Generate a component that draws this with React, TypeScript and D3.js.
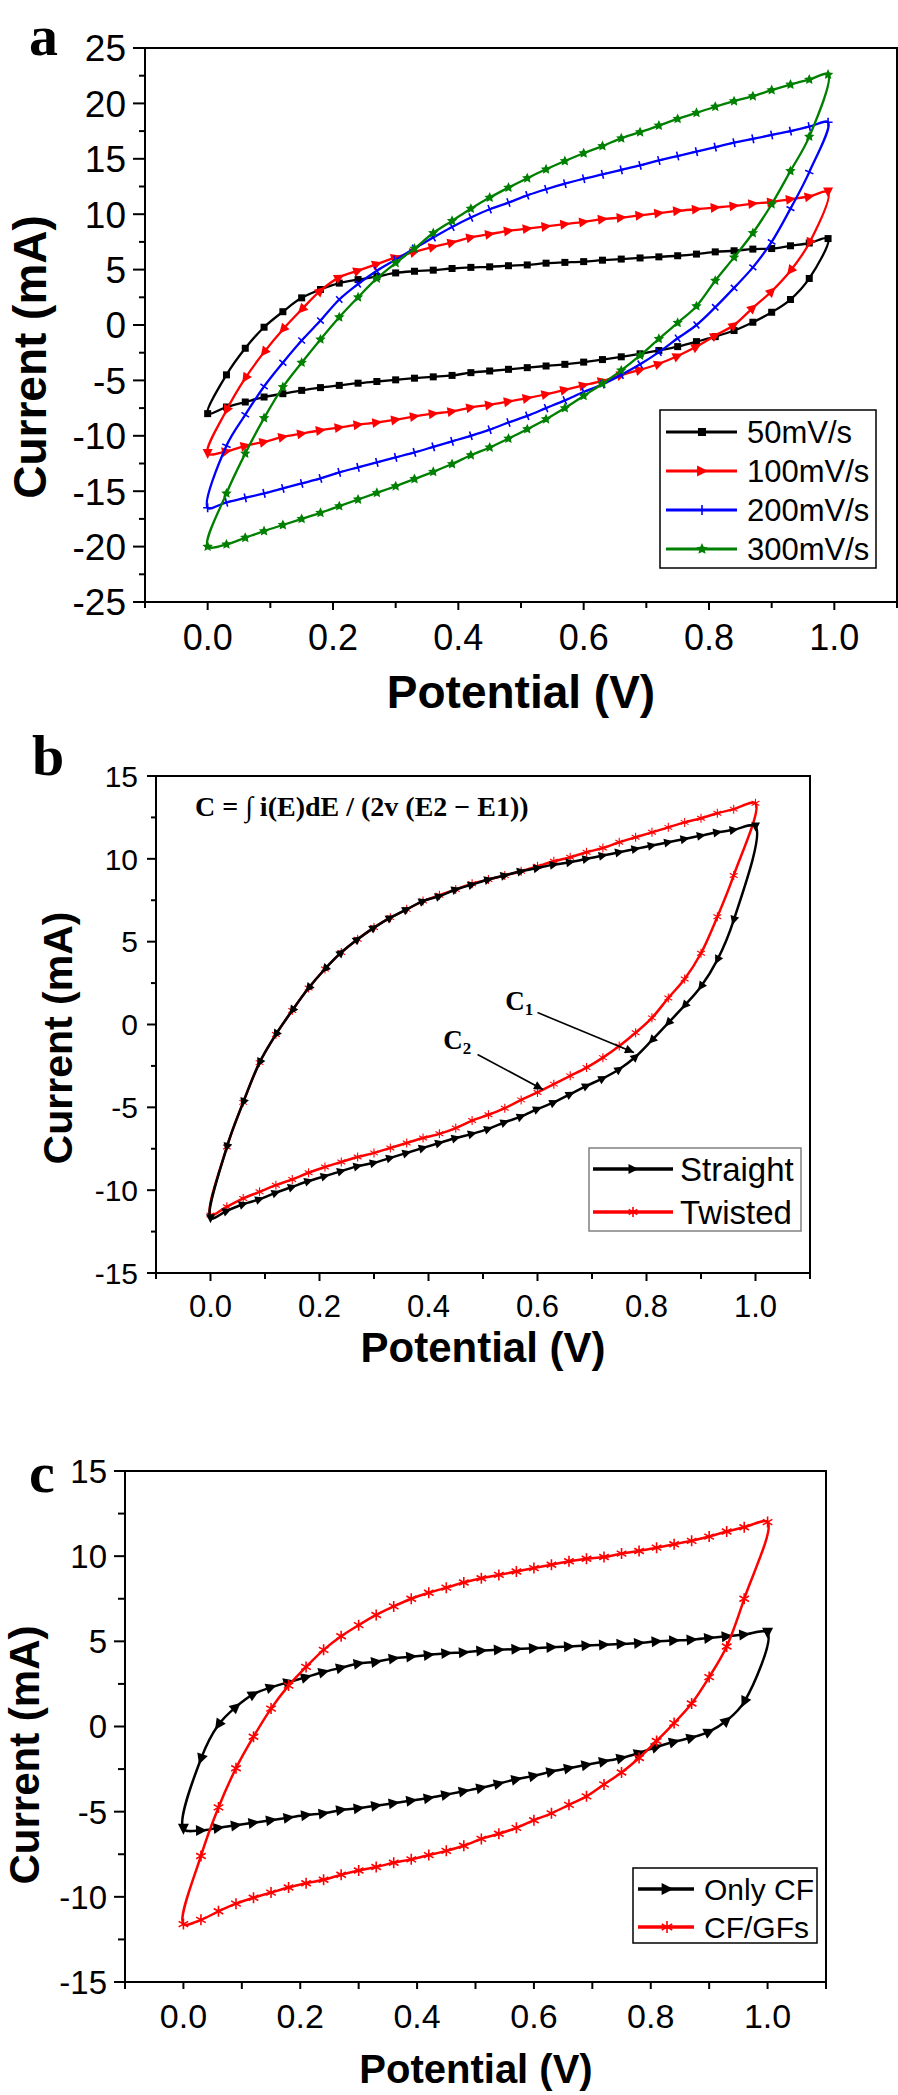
import React, { useEffect, useRef } from 'react';
import * as d3 from 'd3';

// potential grid (V) of the plotted points
const POT_A = [0, 0.03, 0.06, 0.09, 0.12, 0.15, 0.18, 0.21, 0.24, 0.27, 0.3, 0.33, 0.36, 0.39, 0.42, 0.45, 0.48, 0.51, 0.54, 0.57, 0.6, 0.63, 0.66, 0.69, 0.72, 0.75, 0.78, 0.81, 0.84, 0.87, 0.9, 0.93, 0.96, 0.99];
const POT_BC = [0, 0.03, 0.06, 0.09, 0.12, 0.15, 0.18, 0.21, 0.24, 0.27, 0.3, 0.33, 0.36, 0.39, 0.42, 0.45, 0.48, 0.51, 0.54, 0.57, 0.6, 0.63, 0.66, 0.69, 0.72, 0.75, 0.78, 0.81, 0.84, 0.87, 0.9, 0.93, 0.96, 1.0];

// panel a: current (mA), lower branch and upper branch, both listed by ascending potential
const A50_LOW = [-8.0, -7.4, -6.95, -6.5, -6.2, -5.9, -5.65, -5.45, -5.25, -5.1, -4.95, -4.8, -4.68, -4.55, -4.3, -4.15, -4.0, -3.85, -3.7, -3.55, -3.35, -3.12, -2.87, -2.6, -2.3, -1.95, -1.5, -1.05, -0.5, 0.25, 1.15, 2.3, 4.2, 7.8];
const A50_UP = [-8.0, -4.5, -2.1, -0.2, 1.2, 2.45, 3.2, 3.78, 4.1, 4.38, 4.7, 4.85, 4.95, 5.1, 5.2, 5.25, 5.35, 5.42, 5.58, 5.65, 5.72, 5.85, 5.95, 6.05, 6.15, 6.25, 6.4, 6.6, 6.7, 6.85, 6.9, 7.15, 7.4, 7.8];
const A100_LOW = [-11.6, -11.4, -10.9, -10.55, -10.1, -9.8, -9.5, -9.25, -9.0, -8.8, -8.55, -8.25, -8.0, -7.8, -7.45, -7.2, -6.9, -6.6, -6.25, -5.85, -5.45, -5.05, -4.5, -4.05, -3.5, -2.8, -1.95, -0.95, 0.0, 1.55, 3.05, 4.9, 7.4, 12.0];
const A100_UP = [-11.6, -7.7, -4.8, -2.45, -0.4, 1.4, 3.1, 4.3, 4.9, 5.5, 6.1, 6.6, 7.05, 7.45, 7.9, 8.2, 8.5, 8.7, 8.9, 9.1, 9.3, 9.55, 9.7, 9.9, 10.1, 10.3, 10.45, 10.6, 10.75, 10.95, 11.1, 11.35, 11.6, 12.0];
const A200_LOW = [-16.5, -16.0, -15.6, -15.2, -14.75, -14.3, -13.85, -13.3, -12.85, -12.4, -11.95, -11.5, -11.0, -10.5, -10.0, -9.45, -8.8, -8.2, -7.5, -6.8, -6.05, -5.35, -4.5, -3.55, -2.45, -1.2, 0.0, 1.6, 3.35, 5.2, 7.5, 10.5, 13.8, 18.3];
const A200_UP = [-16.5, -10.9, -8.1, -5.55, -3.4, -1.4, 0.4, 2.3, 3.7, 4.9, 5.9, 6.9, 7.9, 8.85, 9.7, 10.45, 11.05, 11.7, 12.25, 12.75, 13.2, 13.6, 14.0, 14.4, 14.85, 15.25, 15.65, 16.05, 16.45, 16.8, 17.15, 17.5, 17.9, 18.3];
const A300_LOW = [-20.0, -19.8, -19.2, -18.6, -18.05, -17.5, -16.95, -16.35, -15.75, -15.15, -14.55, -13.9, -13.25, -12.55, -11.75, -11.05, -10.25, -9.4, -8.5, -7.5, -6.4, -5.3, -4.1, -2.75, -1.25, 0.2, 1.7, 4.0, 6.1, 8.3, 10.9, 13.9, 17.0, 22.6];
const A300_UP = [-20.0, -15.2, -11.6, -8.4, -5.6, -3.4, -1.3, 0.7, 2.5, 4.2, 5.6, 6.9, 8.3, 9.4, 10.5, 11.5, 12.4, 13.25, 14.05, 14.8, 15.5, 16.15, 16.85, 17.4, 18.0, 18.6, 19.15, 19.7, 20.2, 20.65, 21.2, 21.7, 22.15, 22.6];

// panel b
const STRAIGHT_LOW = [-11.7, -11.25, -10.85, -10.55, -10.15, -9.8, -9.45, -9.15, -8.85, -8.55, -8.35, -8.05, -7.75, -7.45, -7.15, -6.85, -6.6, -6.3, -5.9, -5.55, -5.1, -4.7, -4.2, -3.7, -3.25, -2.7, -1.95, -0.95, 0.1, 1.15, 2.3, 3.9, 6.3, 11.95];
const STRAIGHT_UP = [-11.7, -7.4, -4.7, -2.3, -0.6, 0.85, 2.2, 3.35, 4.35, 5.15, 5.85, 6.45, 6.95, 7.45, 7.75, 8.15, 8.45, 8.75, 9.0, 9.25, 9.45, 9.65, 9.8, 10.0, 10.2, 10.4, 10.6, 10.8, 11.0, 11.2, 11.4, 11.6, 11.75, 11.95];
const TWISTED_LOW = [-11.5, -11.0, -10.5, -10.1, -9.7, -9.35, -8.95, -8.6, -8.3, -8.0, -7.75, -7.45, -7.15, -6.85, -6.6, -6.25, -5.8, -5.45, -5.05, -4.55, -4.1, -3.6, -3.1, -2.6, -2.0, -1.3, -0.5, 0.4, 1.6, 2.75, 4.3, 6.5, 9.0, 13.35];
const TWISTED_UP = [-11.5, -7.4, -4.7, -2.3, -0.6, 0.85, 2.2, 3.35, 4.35, 5.15, 5.85, 6.45, 6.95, 7.45, 7.8, 8.15, 8.5, 8.75, 9.0, 9.25, 9.55, 9.85, 10.1, 10.4, 10.65, 11.0, 11.3, 11.6, 11.9, 12.2, 12.45, 12.75, 13.0, 13.35];

// panel c
const ONLYCF_LOW = [-6.0, -6.1, -5.95, -5.8, -5.65, -5.5, -5.35, -5.2, -5.1, -4.9, -4.8, -4.65, -4.5, -4.35, -4.2, -4.0, -3.8, -3.6, -3.35, -3.1, -2.9, -2.65, -2.45, -2.25, -2.05, -1.85, -1.55, -1.2, -0.9, -0.65, -0.3, 0.35, 1.45, 5.5];
const ONLYCF_UP = [-6.0, -1.9, 0.1, 1.15, 1.9, 2.3, 2.6, 2.9, 3.2, 3.45, 3.7, 3.8, 4.0, 4.1, 4.2, 4.3, 4.35, 4.45, 4.5, 4.55, 4.6, 4.65, 4.7, 4.75, 4.8, 4.85, 4.9, 5.0, 5.05, 5.1, 5.2, 5.3, 5.4, 5.5];
const CFGF_LOW = [-11.6, -11.35, -10.85, -10.4, -10.05, -9.75, -9.45, -9.2, -9.0, -8.7, -8.45, -8.25, -8.0, -7.8, -7.55, -7.3, -7.0, -6.6, -6.3, -5.95, -5.5, -5.1, -4.6, -4.1, -3.4, -2.7, -1.85, -0.85, 0.2, 1.35, 2.9, 4.7, 7.5, 12.0];
const CFGF_UP = [-11.6, -7.6, -4.75, -2.45, -0.6, 1.05, 2.4, 3.5, 4.5, 5.3, 5.95, 6.55, 7.05, 7.5, 7.85, 8.15, 8.45, 8.7, 8.9, 9.1, 9.3, 9.5, 9.7, 9.85, 9.95, 10.15, 10.3, 10.5, 10.7, 10.9, 11.15, 11.45, 11.7, 12.0];

// axes
const X_TICKS = [0, 0.2, 0.4, 0.6, 0.8, 1.0];
const X_MINOR = [-0.1, 0.1, 0.3, 0.5, 0.7, 0.9, 1.1];
const A_Y_TICKS = [-25, -20, -15, -10, -5, 0, 5, 10, 15, 20, 25];
const A_Y_MINOR = [-22.5, -17.5, -12.5, -7.5, -2.5, 2.5, 7.5, 12.5, 17.5, 22.5];
const BC_Y_TICKS = [-15, -10, -5, 0, 5, 10, 15];
const BC_Y_MINOR = [-12.5, -7.5, -2.5, 2.5, 7.5, 12.5];

const A_LEGEND = ['50mV/s', '100mV/s', '200mV/s', '300mV/s'];
const B_LEGEND = ['Straight', 'Twisted'];
const C_LEGEND = ['Only CF', 'CF/GFs'];

const SANS = "'Liberation Sans', Arial, Helvetica, sans-serif";
const SERIF = "'Liberation Serif', 'Times New Roman', serif";

type Series = { pot: number[]; low: number[]; up: number[]; color: string; marker: string; size: number };

function starPath(r: number) {
  const pts: string[] = [];
  for (let k = 0; k < 10; k++) {
    const rr = k % 2 === 0 ? r : r * 0.48;
    const a = -Math.PI / 2 + (k * Math.PI) / 5;
    pts.push(`${(rr * Math.cos(a)).toFixed(2)},${(rr * Math.sin(a)).toFixed(2)}`);
  }
  return `M${pts.join('L')}Z`;
}

function drawMarker(g: any, kind: string, px: number, py: number, ang: number, color: string, s: number) {
  const t = `translate(${px},${py}) rotate(${ang})`;
  if (kind === 'square') {
    g.append('rect').attr('x', px - s / 2).attr('y', py - s / 2).attr('width', s).attr('height', s).attr('fill', color);
  } else if (kind === 'triangle') {
    g.append('path')
      .attr('d', `M${s * 0.55},0L${-s * 0.45},${-s * 0.5}L${-s * 0.45},${s * 0.5}Z`)
      .attr('transform', t)
      .attr('fill', color);
  } else if (kind === 'plus') {
    g.append('path')
      .attr('d', `M0,${-s / 2}V${s / 2}M${-s / 2},0H${s / 2}`)
      .attr('transform', t)
      .attr('stroke', color)
      .attr('stroke-width', 1.6)
      .attr('fill', 'none');
  } else if (kind === 'star') {
    g.append('path')
      .attr('d', starPath(s / 2))
      .attr('transform', `translate(${px},${py})`)
      .attr('fill', color);
  } else if (kind === 'asterisk') {
    const r = s / 2;
    const c = r * 0.87;
    const h = r * 0.5;
    g.append('path')
      .attr('d', `M0,${-r}V${r}M${-c},${-h}L${c},${h}M${-c},${h}L${c},${-h}`)
      .attr('transform', `translate(${px},${py})`)
      .attr('stroke', color)
      .attr('stroke-width', s > 9 ? 1.6 : 1.1)
      .attr('fill', 'none');
  }
}

function drawPanel(svg: any, p: any) {
  const x = d3.scaleLinear().domain([-0.1, 1.1]).range([p.left, p.right]);
  const y = d3.scaleLinear().domain(p.yDomain).range([p.bottom, p.top]);
  const g = svg.append('g');

  // frame and ticks
  g.append('rect')
    .attr('x', p.left).attr('y', p.top)
    .attr('width', p.right - p.left).attr('height', p.bottom - p.top)
    .attr('fill', 'none').attr('stroke', '#000').attr('stroke-width', 2);

  p.yTicks.forEach((v: number) => {
    g.append('line').attr('x1', p.left - p.yMajor).attr('x2', p.left).attr('y1', y(v)).attr('y2', y(v))
      .attr('stroke', '#000').attr('stroke-width', 2);
    g.append('text').attr('x', p.yLabelX).attr('y', y(v)).attr('dy', '0.36em')
      .attr('text-anchor', 'end').attr('font-family', SANS).attr('font-size', p.tickFont)
      .text(String(v));
  });
  p.yMinor.forEach((v: number) => {
    g.append('line').attr('x1', p.left - p.yMinorLen).attr('x2', p.left).attr('y1', y(v)).attr('y2', y(v))
      .attr('stroke', '#000').attr('stroke-width', 2);
  });
  X_TICKS.forEach((v) => {
    g.append('line').attr('x1', x(v)).attr('x2', x(v)).attr('y1', p.bottom).attr('y2', p.bottom + p.xMajor)
      .attr('stroke', '#000').attr('stroke-width', 2);
    g.append('text').attr('x', x(v)).attr('y', p.xLabelY)
      .attr('text-anchor', 'middle').attr('font-family', SANS).attr('font-size', p.xTickFont)
      .text(d3.format('.1f')(v));
  });
  X_MINOR.forEach((v) => {
    g.append('line').attr('x1', x(v)).attr('x2', x(v)).attr('y1', p.bottom).attr('y2', p.bottom + p.xMinorLen)
      .attr('stroke', '#000').attr('stroke-width', 2);
  });

  // titles
  g.append('text').attr('transform', `translate(${p.yTitle[0]},${p.yTitle[1]}) rotate(-90)`)
    .attr('text-anchor', 'middle').attr('font-family', SANS).attr('font-weight', 'bold')
    .attr('font-size', p.yTitle[2]).text('Current (mA)');
  g.append('text').attr('x', p.xTitle[0]).attr('y', p.xTitle[1])
    .attr('text-anchor', 'middle').attr('font-family', SANS).attr('font-weight', 'bold')
    .attr('font-size', p.xTitle[2]).text('Potential (V)');
  g.append('text').attr('x', p.letter[1]).attr('y', p.letter[2])
    .attr('font-family', SERIF).attr('font-weight', 'bold').attr('font-size', 58).text(p.letter[0]);

  // curves
  const line = d3.line().curve(d3.curveCatmullRomClosed.alpha(0.5));
  p.order.forEach((idx: number) => {
    const s: Series = p.series[idx];
    const low = s.low.map((c, k) => [x(s.pot[k]), y(c)] as [number, number]);
    const up = s.up.map((c, k) => [x(s.pot[k]), y(c)] as [number, number]);
    const loop = low.concat(up.slice(1, -1).reverse());
    const n = loop.length;
    g.append('path').attr('d', line(loop)).attr('fill', 'none')
      .attr('stroke', s.color).attr('stroke-width', p.lineWidth).attr('stroke-linejoin', 'round');
    loop.forEach((pt, k) => {
      const a = loop[(k - 1 + n) % n];
      const b = loop[(k + 1) % n];
      let dx = b[0] - a[0];
      let dy = b[1] - a[1];
      if (Math.abs(dx) >= Math.abs(dy)) {
        if (dx < 0) { dx = -dx; dy = -dy; }
      } else if (dy < 0) { dx = -dx; dy = -dy; }
      const ang = (Math.atan2(dy, dx) * 180) / Math.PI;
      drawMarker(g, s.marker, pt[0], pt[1], ang, s.color, s.size);
    });
  });

  // legend
  const L = p.legend;
  g.append('rect').attr('x', L.box[0]).attr('y', L.box[1])
    .attr('width', L.box[2] - L.box[0]).attr('height', L.box[3] - L.box[1])
    .attr('fill', '#fff').attr('stroke', L.border).attr('stroke-width', 1.5);
  L.labels.forEach((lab: string, k: number) => {
    const s: Series = p.series[k];
    const ry = L.rows[k];
    g.append('line').attr('x1', L.line[0]).attr('x2', L.line[1]).attr('y1', ry).attr('y2', ry)
      .attr('stroke', s.color).attr('stroke-width', p.lineWidth + 0.8);
    drawMarker(g, s.marker, L.mark, ry, 0, s.color, s.size + 1);
    g.append('text').attr('x', L.textX).attr('y', ry).attr('dy', '0.36em')
      .attr('font-family', SANS).attr('font-size', L.font).text(lab);
  });

  return { x, y, g };
}

const PANEL_A = {
  left: 145, right: 897, top: 48, bottom: 602, yDomain: [-25, 25],
  yTicks: A_Y_TICKS, yMinor: A_Y_MINOR, tickFont: 37, xTickFont: 36, yLabelX: 126, xLabelY: 650,
  yMajor: 12, yMinorLen: 6, xMajor: 8, xMinorLen: 6,
  yTitle: [46, 357, 46], xTitle: [521, 708, 46], letter: ['a', 29, 55],
  lineWidth: 2.3, order: [0, 1, 2, 3],
  series: [
    { pot: POT_A, low: A50_LOW, up: A50_UP, color: '#000000', marker: 'square', size: 7 },
    { pot: POT_A, low: A100_LOW, up: A100_UP, color: '#ff0000', marker: 'triangle', size: 10 },
    { pot: POT_A, low: A200_LOW, up: A200_UP, color: '#0000ff', marker: 'plus', size: 9 },
    { pot: POT_A, low: A300_LOW, up: A300_UP, color: '#008000', marker: 'star', size: 11 },
  ],
  legend: { box: [660, 410, 876, 568], border: '#000', rows: [432, 471, 510, 549], line: [666, 737], mark: 702, textX: 747, font: 31, labels: A_LEGEND },
};

const PANEL_B = {
  left: 156, right: 810, top: 776, bottom: 1273, yDomain: [-15, 15],
  yTicks: BC_Y_TICKS, yMinor: BC_Y_MINOR, tickFont: 30, xTickFont: 31, yLabelX: 138, xLabelY: 1317,
  yMajor: 9, yMinorLen: 5, xMajor: 8, xMinorLen: 6,
  yTitle: [72, 1038, 41], xTitle: [483, 1362, 42], letter: ['b', 32, 775],
  lineWidth: 2.5, order: [1, 0],
  series: [
    { pot: POT_BC, low: STRAIGHT_LOW, up: STRAIGHT_UP, color: '#000000', marker: 'triangle', size: 9 },
    { pot: POT_BC, low: TWISTED_LOW, up: TWISTED_UP, color: '#ff0000', marker: 'asterisk', size: 9 },
  ],
  legend: { box: [589, 1148, 801, 1231], border: '#808080', rows: [1169, 1212], line: [593, 673], mark: 633, textX: 680, font: 33, labels: B_LEGEND },
};

const PANEL_C = {
  left: 125, right: 826, top: 1471, bottom: 1982, yDomain: [-15, 15],
  yTicks: BC_Y_TICKS, yMinor: BC_Y_MINOR, tickFont: 33, xTickFont: 34, yLabelX: 107, xLabelY: 2028,
  yMajor: 11, yMinorLen: 7, xMajor: 7, xMinorLen: 7,
  yTitle: [39, 1755, 42], xTitle: [476, 2083, 40], letter: ['c', 29, 1492],
  lineWidth: 2.5, order: [0, 1],
  series: [
    { pot: POT_BC, low: ONLYCF_LOW, up: ONLYCF_UP, color: '#000000', marker: 'triangle', size: 11 },
    { pot: POT_BC, low: CFGF_LOW, up: CFGF_UP, color: '#ff0000', marker: 'asterisk', size: 11 },
  ],
  legend: { box: [633, 1868, 817, 1943], border: '#000', rows: [1889, 1927], line: [638, 694], mark: 667, textX: 704, font: 30, labels: C_LEGEND },
};

// annotation anchors in data units (potential, current)
const C1_TEXT = [0.541, 0.9];
const C1_ARROW = [[0.6, 0.72], [0.777, -1.69]];
const C2_TEXT = [0.427, -1.5];
const C2_ARROW = [[0.49, -1.81], [0.61, -3.92]];
const EQUATION = 'C = \u222B i(E)dE / (2v (E2 \u2212 E1))';

export default function App() {
  const ref = useRef<SVGSVGElement | null>(null);

  useEffect(() => {
    if (!ref.current) return;
    const svg = d3.select(ref.current);
    svg.selectAll('*').remove();

    svg.append('defs').append('marker')
      .attr('id', 'arrowHead').attr('viewBox', '0 0 10 10').attr('refX', 10).attr('refY', 5)
      .attr('markerUnits', 'userSpaceOnUse').attr('markerWidth', 12).attr('markerHeight', 9)
      .attr('orient', 'auto')
      .append('path').attr('d', 'M0,0L10,5L0,10Z').attr('fill', '#000');

    drawPanel(svg, PANEL_A);
    const b = drawPanel(svg, PANEL_B);
    drawPanel(svg, PANEL_C);

    // panel b annotations
    b.g.append('text').attr('x', 195).attr('y', 816)
      .attr('font-family', SERIF).attr('font-weight', 'bold').attr('font-size', 28)
      .text(EQUATION);

    const label = (pos: number[], sub: string) => {
      const t = b.g.append('text').attr('x', b.x(pos[0])).attr('y', b.y(pos[1]))
        .attr('font-family', SERIF).attr('font-weight', 'bold').attr('font-size', 27);
      t.append('tspan').text('C');
      t.append('tspan').attr('font-size', 17).attr('dy', 5).text(sub);
    };
    label(C1_TEXT, '1');
    label(C2_TEXT, '2');
    [C1_ARROW, C2_ARROW].forEach((ar) => {
      b.g.append('line')
        .attr('x1', b.x(ar[0][0])).attr('y1', b.y(ar[0][1]))
        .attr('x2', b.x(ar[1][0])).attr('y2', b.y(ar[1][1]))
        .attr('stroke', '#000').attr('stroke-width', 1.6)
        .attr('marker-end', 'url(#arrowHead)');
    });
  }, []);

  return (
    <svg
      ref={ref}
      width={898}
      height={2095}
      style={{ position: 'absolute', left: 0, top: 0, background: '#fff' }}
    />
  );
}
